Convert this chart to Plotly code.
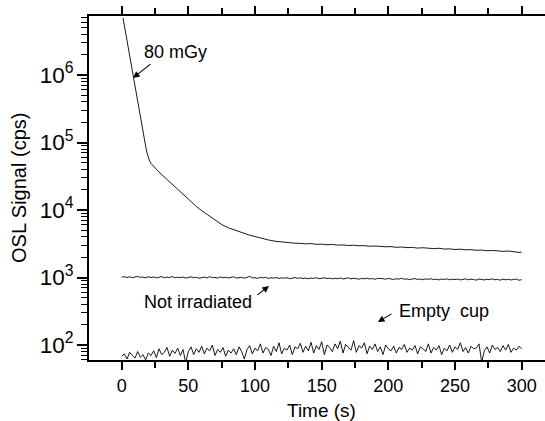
import plotly.graph_objects as go

# ---- data ----
decay_t = [1, 2, 3, 4, 5, 6, 7, 8, 9, 10, 11, 12, 13, 14, 15, 16, 17, 18, 19, 20,
           21, 22, 24, 26, 28, 30, 33, 36, 40, 44, 48, 52, 56, 60, 65, 70, 75, 80,
           85, 90, 95, 100, 105, 110, 115, 120, 125, 130,
           134, 138, 142, 146, 150, 154, 158, 162, 166, 170, 174, 178, 182, 186,
           190, 194, 198, 202, 206, 210, 214, 218, 222, 226, 230, 234, 238, 242,
           246, 250, 254, 258, 262, 266, 270, 274, 278, 282, 286, 290, 294, 298, 300]
decay_v = [7.0e6, 5.4e6, 4.1e6, 3.1e6, 2.4e6, 1.8e6, 1.4e6, 1.05e6, 8.2e5, 6.4e5,
           5.0e5, 3.9e5, 3.0e5, 2.35e5, 1.85e5, 1.45e5, 1.12e5, 8.8e4, 7.0e4, 6.0e4,
           5.3e4, 4.9e4, 4.4e4, 4.0e4, 3.65e4, 3.35e4, 2.95e4, 2.6e4, 2.2e4, 1.85e4,
           1.55e4, 1.32e4, 1.13e4, 9.8e3, 8.3e3, 7.1e3, 6.1e3, 5.45e3,
           5.0e3, 4.6e3, 4.3e3, 4.05e3, 3.8e3, 3.6e3, 3.45e3, 3.35e3, 3.28e3, 3.22e3,
           3210, 3150, 3180, 3100, 3120, 3060, 3090, 3020, 3040, 2980, 3010, 2950,
           2970, 2900, 2930, 2880, 2850, 2870, 2800, 2830, 2770, 2790, 2730, 2760,
           2700, 2680, 2710, 2640, 2660, 2600, 2630, 2570, 2590, 2530, 2550, 2490,
           2520, 2460, 2440, 2470, 2400, 2350, 2380]

noise_t = list(range(0, 301, 2))

not_irr_v = [1010, 1030, 1000, 1025, 995, 1020, 1040, 1005, 1015, 990, 1025,
             1000, 1020, 985, 1010, 1030, 995, 1015, 1000, 1035, 990,
             1010, 995, 1020, 980, 1005, 1025, 990, 1010, 975, 1000,
             1015, 985, 1030, 995, 1005, 980, 1020, 990, 1010, 985,
             1000, 1025, 980, 995, 1010, 975, 1000, 1040, 985, 995,
             970, 1005, 985, 1010, 965, 995, 980, 1000, 970, 990,
             975, 995, 960, 985, 1000, 970, 990, 965, 980, 960,
             985, 970, 995, 960, 975, 990, 965, 980, 955, 975,
             960, 985, 950, 970, 990, 955, 975, 960, 945, 970,
             955, 980, 950, 965, 940, 975, 955, 960, 945, 970,
             950, 935, 960, 945, 975, 940, 955, 930, 950, 965,
             935, 950, 925, 955, 940, 960, 930, 945, 920, 950,
             935, 955, 925, 945, 930, 950, 920, 940, 955, 925,
             945, 930, 915, 950, 935, 920, 945, 930, 955, 925,
             935, 915, 945, 925, 940, 920, 935, 950, 910, 930]

empty_v = [68, 74, 62, 78, 70, 64, 80, 66, 72, 60, 76,
           70, 82, 65, 88, 72, 78, 92, 68, 84, 75,
           90, 70, 86, 55, 80, 94, 72, 88, 78, 96,
           74, 90, 82, 100, 70, 86, 78, 92, 68, 84,
           76, 88, 72, 94, 80, 62, 86, 98, 74, 90,
           82, 104, 76, 92, 86, 70, 96, 80, 108, 74,
           90, 84, 100, 72, 94, 88, 106, 78, 96, 82,
           110, 76, 98, 86, 112, 72, 100, 92, 80, 104,
           88, 114, 76, 102, 94, 84, 116, 78, 98, 90,
           108, 74, 96, 86, 104, 80, 94, 72, 100, 88,
           82, 96, 76, 92, 86, 102, 78, 90, 84, 98,
           74, 94, 88, 80, 104, 76, 92, 84, 98, 72,
           90, 82, 100, 78, 94, 86, 108, 80, 92, 76,
           96, 88, 90, 104, 56, 82, 94, 76, 100, 86,
           92, 80, 98, 84, 102, 78, 90, 84, 96, 88]

x_ticks = [0, 50, 100, 150, 200, 250, 300]

X_RANGE = [-24.5, 317.5]
Y_RANGE = [1.778, 6.874]

FONT = "Arial, Liberation Sans, sans-serif"
line_style = dict(color="black", width=0.9)

fig = go.Figure()
fig.add_trace(go.Scatter(x=decay_t, y=decay_v, mode="lines", line=line_style, name="80 mGy"))
fig.add_trace(go.Scatter(x=noise_t, y=not_irr_v, mode="lines", line=line_style, name="Not irradiated"))
fig.add_trace(go.Scatter(x=noise_t, y=empty_v, mode="lines", line=line_style, name="Empty cup"))

arrow = dict(showarrow=True, arrowhead=2, arrowsize=1.2, arrowwidth=1.1,
             arrowcolor="black", text="", xref="x", yref="y", axref="pixel", ayref="pixel")
fig.add_annotation(x=8.5, y=5.956, ax=19, ay=-15, **arrow)
fig.add_annotation(x=110.5, y=2.874, ax=-13, ay=10, **arrow)
fig.add_annotation(x=192.2, y=2.341, ax=15, ay=-9, **arrow)

txt = dict(showarrow=False, xref="x", yref="y", font=dict(family=FONT, size=18, color="black"))
fig.add_annotation(x=40, y=6.34, text="80 mGy", **txt)
fig.add_annotation(x=57.2, y=2.637, text="Not irradiated", **txt)
fig.add_annotation(x=241.9, y=2.504, text="Empty\u00a0 cup", **txt)

fig.add_annotation(x=150, y=0, xref="x", yref="paper", yshift=-50, yanchor="middle",
                   xanchor="center", showarrow=False,
                   text="Time (s)", font=dict(family=FONT, size=19, color="black"))
fig.add_annotation(x=0, y=0.5, xref="paper", yref="paper", xshift=-70, xanchor="center",
                   yanchor="middle", showarrow=False, textangle=-90, text="OSL Signal (cps)",
                   font=dict(family=FONT, size=20, color="black"))

fig.update_layout(
    xaxis=dict(range=X_RANGE, tickvals=x_ticks, ticks="outside", ticklen=8, tickwidth=1.5,
               tickcolor="black", showline=True, linecolor="black", linewidth=1.8,
               mirror="allticks", showgrid=False, zeroline=False,
               tickfont=dict(family=FONT, size=18, color="black"),
               minor=dict(ticks="outside", ticklen=6, tickwidth=1.5, tickcolor="black",
                          dtick=25, tick0=0, showgrid=False)),
    yaxis=dict(type="log", range=Y_RANGE, dtick=1, exponentformat="power",
               ticks="outside", ticklen=10, tickwidth=1.5, tickcolor="black",
               showline=True, linecolor="black", linewidth=1.8, showgrid=False,
               zeroline=False, tickfont=dict(family=FONT, size=18, color="black"),
               minor=dict(ticks="outside", ticklen=6, tickwidth=1.2, tickcolor="black",
                          showgrid=False)),
    width=545, height=421, margin=dict(l=89, r=0, t=16, b=61),
    plot_bgcolor="white", paper_bgcolor="white", showlegend=False,
    font=dict(family=FONT, size=18, color="black"),
)

fig.write_html("out.html")
